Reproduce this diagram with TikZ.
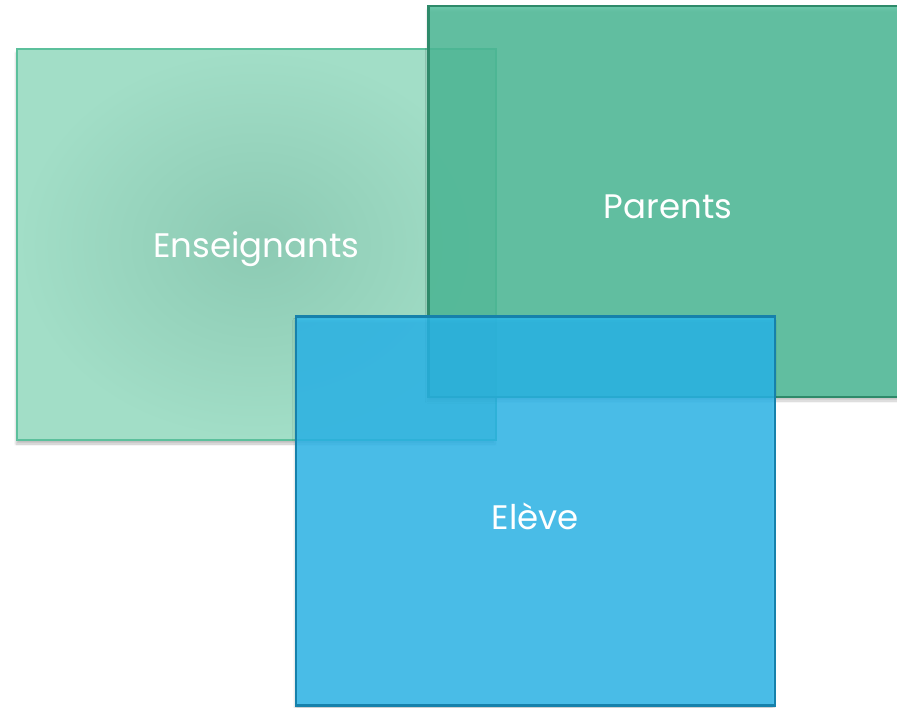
\documentclass[tikz,border=0pt]{standalone}
\usepackage{fontspec}
\setmainfont{Poppins}
\usetikzlibrary{shadows.blur}
\definecolor{ensin}{HTML}{8CCAB3}
\definecolor{ensout}{HTML}{A2DEC7}
\definecolor{ensline}{HTML}{5CC09C}
\definecolor{parfill}{HTML}{4FBC99}
\definecolor{parline}{HTML}{2E8A6A}
\definecolor{elefill}{HTML}{28B8EF}
\definecolor{eleline}{HTML}{1681AB}
\newcommand{\boxtext}[1]{\raisebox{-5pt}[\height][\depth]{#1}}
\begin{document}
\begin{tikzpicture}[x=1pt,y=-1pt,
    box/.style={rectangle, minimum width=479pt, minimum height=391pt, inner sep=0pt,
      text=white, font=\fontsize{34}{36}\selectfont,
      blur shadow={shadow xshift=-1pt, shadow yshift=-4pt, shadow blur steps=6, shadow opacity=25}},
    ensbox/.style={box, draw=ensline, line width=1.5pt, inner color=ensin, outer color=ensout},
    parbox/.style={box, draw=parline, line width=2.5pt, fill=parfill, fill opacity=0.85, text opacity=1},
    elebox/.style={box, draw=eleline, line width=2.5pt, fill=elefill, fill opacity=0.8, text opacity=1}]
\useasboundingbox (0,0) rectangle (897,707);
\clip (0,0) rectangle (897,707);
\node[ensbox] (ens) at (256.5,244.5) {\boxtext{Enseignants}};
\node[parbox] (par) at (668,201.5) {\boxtext{Parents}};
\node[elebox, minimum height=389pt] (ele) at (535.5,511) {\boxtext{Elève}};
\end{tikzpicture}
\end{document}
